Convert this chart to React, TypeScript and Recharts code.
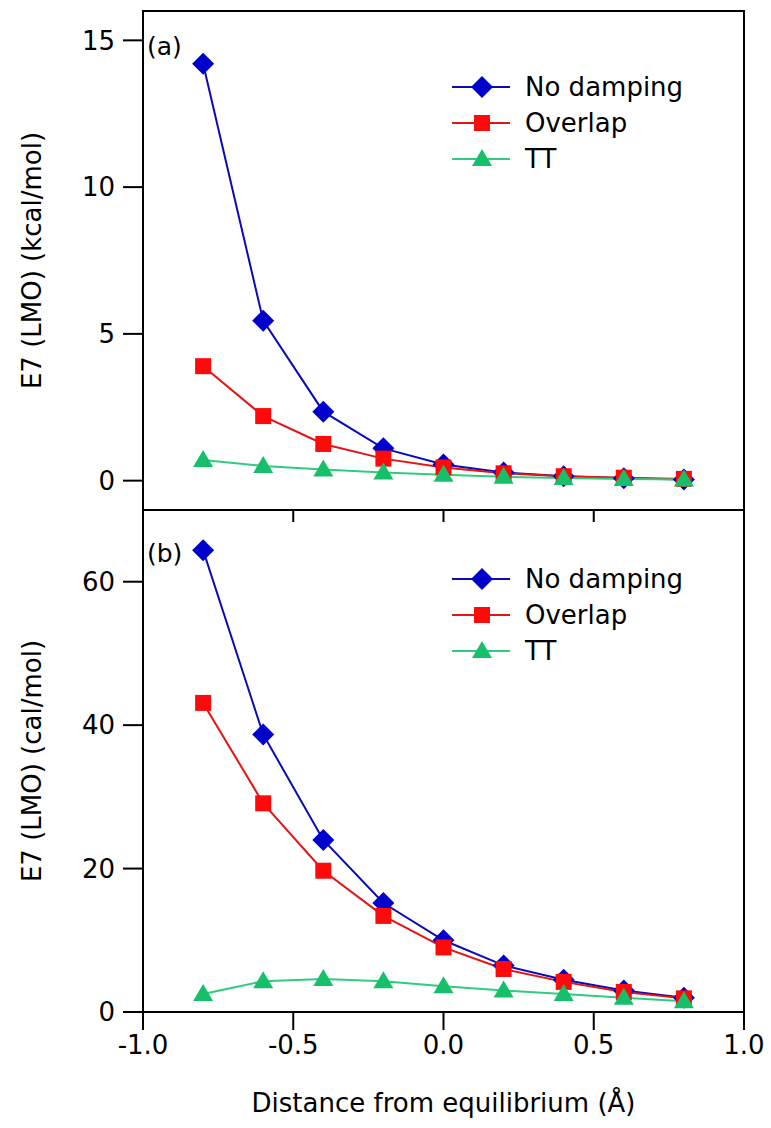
import React from "react";
import { Legend, Line, LineChart, ReferenceArea, XAxis, YAxis } from "recharts";

// distance from equilibrium (Å)
const XS = [-0.8, -0.6, -0.4, -0.2, 0, 0.2, 0.4, 0.6, 0.8];

// panel (a), kcal/mol
const A_NO_DAMPING = [14.2, 5.45, 2.35, 1.1, 0.55, 0.28, 0.15, 0.08, 0.04];
const A_OVERLAP = [3.9, 2.2, 1.25, 0.75, 0.45, 0.25, 0.15, 0.1, 0.06];
const A_TT = [0.7, 0.5, 0.38, 0.28, 0.2, 0.13, 0.09, 0.06, 0.04];

// panel (b), cal/mol
const B_NO_DAMPING = [64.4, 38.7, 24.0, 15.2, 10.0, 6.5, 4.5, 3.0, 2.0];
const B_OVERLAP = [43.1, 29.1, 19.7, 13.4, 9.0, 6.0, 4.2, 2.8, 1.9];
const B_TT = [2.5, 4.3, 4.6, 4.3, 3.6, 3.0, 2.5, 2.0, 1.5];

const X_TICKS = [-1, -0.5, 0, 0.5, 1];
const A_Y_TICKS = [0, 5, 10, 15];
const B_Y_TICKS = [0, 20, 40, 60];

const SERIES = [
  { key: "noDamping", name: "No damping", stroke: "#0a0ab8", fill: "#0000cc", shape: "diamond" },
  { key: "overlap", name: "Overlap", stroke: "#e21414", fill: "#ff0a0a", shape: "square" },
  { key: "tt", name: "TT", stroke: "#30cc7e", fill: "#16c06a", shape: "triangle" },
];

const FONT = '"DejaVu Sans", sans-serif';

const rows = (nd: number[], ov: number[], tt: number[]) =>
  XS.map((x, i) => ({ x, noDamping: nd[i], overlap: ov[i], tt: tt[i] }));

const dataA = rows(A_NO_DAMPING, A_OVERLAP, A_TT);
const dataB = rows(B_NO_DAMPING, B_OVERLAP, B_TT);

function marker(shape: string, cx: number, cy: number, fill: string) {
  if (shape === "diamond") {
    return (
      <polygon
        points={`${cx},${cy - 11} ${cx + 11},${cy} ${cx},${cy + 11} ${cx - 11},${cy}`}
        fill={fill}
      />
    );
  }
  if (shape === "square") {
    return <rect x={cx - 8} y={cy - 8} width={16} height={16} fill={fill} />;
  }
  return (
    <polygon
      points={`${cx},${cy - 10} ${cx + 10},${cy + 7} ${cx - 10},${cy + 7}`}
      fill={fill}
    />
  );
}

function LegendBox() {
  return (
    <div style={{ fontFamily: FONT, fontSize: 26, color: "#000" }}>
      {SERIES.map((s) => (
        <div key={s.key} style={{ display: "flex", alignItems: "center", height: 36 }}>
          <svg width={70} height={36}>
            <line x1={4} y1={18} x2={62} y2={18} stroke={s.stroke} strokeWidth={2} />
            {marker(s.shape, 34, 18, s.fill)}
          </svg>
          <span style={{ marginLeft: 7, lineHeight: "36px" }}>{s.name}</span>
        </div>
      ))}
    </div>
  );
}

const axisStyle = { stroke: "#000", strokeWidth: 2 };
const tickStyle = { fill: "#000", fontSize: 26, fontFamily: FONT };

function renderSeries() {
  return SERIES.map((s) => (
    <Line
      key={s.key}
      type="linear"
      dataKey={s.key}
      name={s.name}
      stroke={s.stroke}
      strokeWidth={2}
      isAnimationActive={false}
      dot={(p: any) => <g key={`${s.key}-${p.index}`}>{marker(s.shape, p.cx, p.cy, s.fill)}</g>}
      activeDot={false}
    />
  ));
}

function PanelLabel({ text, y }: { text: string; y: number }) {
  return (
    <text x={147} y={y} fontFamily={FONT} fontSize={25} fill="#000">
      {text}
    </text>
  );
}

export default function App() {
  return (
    <div style={{ position: "absolute", left: 0, top: 0, width: 771, height: 1128, background: "#fff" }}>
      <div style={{ position: "absolute", left: 0, top: 500 }}>
        <LineChart width={771} height={628} data={dataB} margin={{ top: 10, right: 27, bottom: 0, left: 0 }}>
          <XAxis
            type="number"
            dataKey="x"
            domain={[-1, 1]}
            ticks={X_TICKS}
            tickFormatter={(v: number) => v.toFixed(1)}
            height={116}
            tickSize={18}
            tickMargin={6}
            axisLine={axisStyle}
            tickLine={axisStyle}
            tick={tickStyle}
            label={{
              value: "Distance from equilibrium (Å)",
              position: "insideBottom",
              offset: 16,
              style: { fill: "#000", fontSize: 26, fontFamily: FONT },
            }}
          />
          <YAxis
            type="number"
            domain={[0, 70]}
            ticks={B_Y_TICKS}
            width={143}
            tickSize={20}
            tickMargin={8}
            axisLine={axisStyle}
            tickLine={axisStyle}
            tick={tickStyle}
            label={{
              value: "E7 (LMO) (cal/mol)",
              angle: -90,
              position: "insideLeft",
              offset: 32,
              style: { fill: "#000", fontSize: 26, fontFamily: FONT, textAnchor: "middle" },
            }}
          />
          <ReferenceArea x1={-1} x2={1} y1={0} y2={70} fill="none" stroke="#000" strokeWidth={2} ifOverflow="visible" />
          {renderSeries()}
          <Legend
            layout="vertical"
            align="center"
            verticalAlign="middle"
            content={() => <LegendBox />}
            wrapperStyle={{ left: 448, top: 61, width: 300 }}
          />
          <PanelLabel text="(b)" y={62} />
        </LineChart>
      </div>
      <div style={{ position: "absolute", left: 0, top: 0 }}>
        <LineChart width={771} height={530} data={dataA} margin={{ top: 11, right: 27, bottom: 0, left: 0 }}>
          <XAxis
            type="number"
            dataKey="x"
            domain={[-1, 1]}
            ticks={X_TICKS}
            tickFormatter={() => ""}
            height={20}
            tickSize={12}
            axisLine={axisStyle}
            tickLine={axisStyle}
            tick={tickStyle}
          />
          <YAxis
            type="number"
            domain={[-1, 16]}
            ticks={A_Y_TICKS}
            width={143}
            tickSize={20}
            tickMargin={8}
            axisLine={axisStyle}
            tickLine={axisStyle}
            tick={tickStyle}
            label={{
              value: "E7 (LMO) (kcal/mol)",
              angle: -90,
              position: "insideLeft",
              offset: 32,
              style: { fill: "#000", fontSize: 26, fontFamily: FONT, textAnchor: "middle" },
            }}
          />
          <ReferenceArea x1={-1} x2={1} y1={-1} y2={16} fill="none" stroke="#000" strokeWidth={2} ifOverflow="visible" />
          {renderSeries()}
          <Legend
            layout="vertical"
            align="center"
            verticalAlign="middle"
            content={() => <LegendBox />}
            wrapperStyle={{ left: 448, top: 69, width: 300 }}
          />
          <PanelLabel text="(a)" y={55} />
        </LineChart>
      </div>
    </div>
  );
}
